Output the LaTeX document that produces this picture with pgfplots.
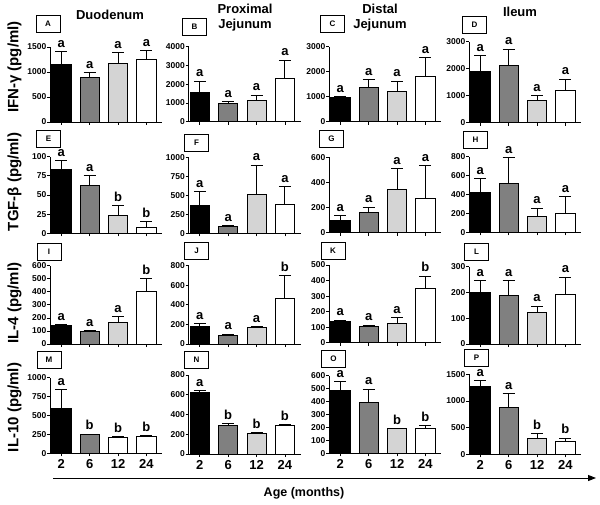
\documentclass[border=0pt]{standalone}
\usepackage{pgfplots}
\pgfplotsset{compat=1.18}
\usepackage{pgfplotstable}
\usepackage{fontspec}
\setmainfont{Liberation Sans}
\usetikzlibrary{arrows.meta}

\definecolor{mgray}{RGB}{128,128,128}
\definecolor{lgray}{RGB}{212,212,212}

% one table per panel: x, mean, upper error, letter
\pgfplotstableread{
x y e lab
1 1153 260 a
2 900 80 a
3 1167 220 a
4 1247 186 a
}\tA
\pgfplotstableread{
x y e lab
1 1582 587 a
2 996 71 a
3 1156 266 a
4 2293 996 a
}\tB
\pgfplotstableread{
x y e lab
1 960 53 a
2 1373 320 a
3 1213 414 a
4 1813 747 a
}\tC
\pgfplotstableread{
x y e lab
1 1914 580 a
2 2123 605 a
3 840 160 a
4 1210 407 a
}\tD
\pgfplotstableread{
x y e lab
1 83.5 11.3 a
2 63 12.6 a
3 24 11.7 b
4 7.8 7.4 b
}\tE
\pgfplotstableread{
x y e lab
1 374 177 a
2 88 13 a
3 520 383 a
4 388 233 a
}\tF
\pgfplotstableread{
x y e lab
1 96 39 a
2 162 40 a
3 342 168 a
4 276 255 a
}\tG
\pgfplotstableread{
x y e lab
1 423 147 a
2 514 275 a
3 169 88 a
4 201 176 a
}\tH
\pgfplotstableread{
x y e lab
1 143 3 a
2 94 8 a
3 163 46 a
4 401 102 b
}\tI
\pgfplotstableread{
x y e lab
1 177 34 a
2 92 7 a
3 173 4 a
4 466 235 b
}\tJ
\pgfplotstableread{
x y e lab
1 137 7 a
2 107 5 a
3 127 34 a
4 350 79 b
}\tK
\pgfplotstableread{
x y e lab
1 202 43 a
2 188 58 a
3 122 25 a
4 194 66 a
}\tL
\pgfplotstableread{
x y e lab
1 590 251 a
2 247 8 b
3 211 9 b
4 220 9 b
}\tM
\pgfplotstableread{
x y e lab
1 625 17 a
2 287 20 b
3 209 7 b
4 287 7 b
}\tN
\pgfplotstableread{
x y e lab
1 490 64 a
2 394 103 a
3 191 0 b
4 191 23 b
}\tO
\pgfplotstableread{
x y e lab
1 1269 106 a
2 875 256 a
3 300 87 b
4 244 56 b
}\tP

\pgfplotsset{
  panel/.style={
    scale only axis, width=112pt,
    xmin=0.6, xmax=4.55, ymin=0,
    axis x line*=bottom, axis y line*=left,
    xtick={1,2,3,4}, xticklabels={},
    tick align=outside, major tick length=3pt,
    tick style={black, line width=0.8pt},
    axis line style={line width=0.8pt},
    tick label style={font=\bfseries\fontsize{8.5}{9}\selectfont},
    yticklabel style={inner sep=0.5pt},
    /pgf/number format/assume math mode=true,
    /pgf/number format/1000 sep={},
    scaled y ticks=false,
    clip=false, anchor=south west,
  },
  bottomticks/.style={xticklabels={2,6,12,24},
    xticklabel style={font=\bfseries\fontsize{13}{13}\selectfont}},
  bar/.style={ybar, bar width=0.68, bar shift=0pt, draw=black, line width=0.8pt,
    error bars/y dir=plus, error bars/y explicit,
    error bars/error bar style={line width=1pt, black},
    error bars/error mark options={rotate=90, mark size=6pt, line width=1pt, black}},
  lab/.style={only marks, mark=text, text mark={},
    point meta=explicit symbolic, nodes near coords, nodes near coords align=vertical,
    every node near coord/.append style={font=\bfseries\fontsize{13}{13}\selectfont,
      inner sep=1.5pt, anchor=south, yshift=2.5pt, black}},
}

\newcommand{\bars}[1]{%
  \addplot[bar, fill=black, restrict x to domain=0.5:1.5] table[x=x, y=y, y error=e]{#1};
  \addplot[bar, fill=mgray, restrict x to domain=1.5:2.5] table[x=x, y=y, y error=e]{#1};
  \addplot[bar, fill=lgray, restrict x to domain=2.5:3.5] table[x=x, y=y, y error=e]{#1};
  \addplot[bar, fill=white, restrict x to domain=3.5:4.5] table[x=x, y=y, y error=e]{#1};
  \addplot[lab] table[x=x, y expr=\thisrow{y}+\thisrow{e}, meta=lab]{#1};
}

\newcommand{\tag}[3]{\node[draw, line width=0.6pt, minimum width=24pt, minimum height=17pt,
  inner sep=0pt, font=\bfseries\fontsize{8}{8}\selectfont] at (#1pt,-#2pt) {#3};}

\begin{document}
\begin{tikzpicture}
\useasboundingbox (0pt,0pt) rectangle (600pt,-505pt);

% row 1: IFN-gamma
\begin{axis}[panel, at={(50pt,-122pt)}, height=75pt, ymax=1500, ytick={0,500,1000,1500}]
\bars{\tA}
\end{axis}
\begin{axis}[panel, at={(188.5pt,-121.7pt)}, height=75pt, ymax=4000, ytick={0,1000,2000,3000,4000}]
\bars{\tB}
\end{axis}
\begin{axis}[panel, at={(329pt,-121.7pt)}, height=75pt, ymax=3000, ytick={0,1000,2000,3000}]
\bars{\tC}
\end{axis}
\begin{axis}[panel, at={(469pt,-122.7pt)}, height=81pt, ymax=3000, ytick={0,1000,2000,3000}]
\bars{\tD}
\end{axis}

% row 2: TGF-beta
\begin{axis}[panel, at={(50pt,-233.3pt)}, height=76.6pt, ymax=100, ytick={0,25,50,75,100}]
\bars{\tE}
\end{axis}
\begin{axis}[panel, at={(188.5pt,-233.3pt)}, height=75.6pt, ymax=1000, ytick={0,250,500,750,1000}]
\bars{\tF}
\end{axis}
\begin{axis}[panel, at={(329pt,-232.7pt)}, height=75.4pt, ymax=600, ytick={0,200,400,600}]
\bars{\tG}
\end{axis}
\begin{axis}[panel, at={(469pt,-232.3pt)}, height=75.6pt, ymax=800, ytick={0,200,400,600,800}]
\bars{\tH}
\end{axis}

% row 3: IL-4
\begin{axis}[panel, at={(50pt,-344pt)}, height=78.3pt, ymax=600, ytick={0,100,...,600}]
\bars{\tI}
\end{axis}
\begin{axis}[panel, at={(188.5pt,-344pt)}, height=78.3pt, ymax=800, ytick={0,200,400,600,800}]
\bars{\tJ}
\end{axis}
\begin{axis}[panel, at={(329pt,-342.7pt)}, height=77.7pt, ymax=500, ytick={0,100,...,500}]
\bars{\tK}
\end{axis}
\begin{axis}[panel, at={(469pt,-344pt)}, height=77.3pt, ymax=300, ytick={0,100,200,300}]
\bars{\tL}
\end{axis}

% row 4: IL-10
\begin{axis}[panel, bottomticks, at={(50pt,-453.3pt)}, height=75.6pt, ymax=1000, ytick={0,250,500,750,1000}]
\addplot[bar, fill=black, restrict x to domain=0.5:1.5] table[x=x, y=y, y error=e]{\tM};
\addplot[bar, fill=mgray, restrict x to domain=1.5:2.5] table[x=x, y=y, y error=e]{\tM};
\addplot[bar, fill=white, restrict x to domain=2.5:4.5] table[x=x, y=y, y error=e]{\tM};
\addplot[lab] table[x=x, y expr=\thisrow{y}+\thisrow{e}, meta=lab]{\tM};
\end{axis}
\begin{axis}[panel, bottomticks, at={(188.5pt,-454pt)}, height=79pt, ymax=800, ytick={0,200,400,600,800}]
\bars{\tN}
\end{axis}
\begin{axis}[panel, bottomticks, at={(329pt,-453.3pt)}, height=77.6pt, ymax=600, ytick={0,100,...,600}]
\bars{\tO}
\end{axis}
\begin{axis}[panel, bottomticks, at={(469pt,-454.3pt)}, height=80pt, ymax=1500, ytick={0,500,1000,1500}]
\bars{\tP}
\end{axis}

% panel tags
\tag{48}{23.5}{A} \tag{194.5}{27}{B} \tag{332.5}{24}{C} \tag{474.5}{25}{D}
\tag{48.5}{138.5}{E} \tag{196.5}{142.5}{F} \tag{331.5}{138.5}{G} \tag{475.5}{139.5}{H}
\tag{49}{251.5}{I} \tag{196.5}{251}{J} \tag{333}{250.5}{K} \tag{476.5}{252}{L}
\tag{49}{360}{M} \tag{196.5}{360}{N} \tag{333.5}{358.5}{O} \tag{476.5}{357.5}{P}

% column titles
\begin{scope}[every node/.style={font=\bfseries\fontsize{13}{15}\selectfont, align=center}]
\node at (110pt,-15pt) {Duodenum};
\node at (245pt,-17.5pt) {Proximal\\Jejunum};
\node at (380pt,-17.5pt) {Distal\\Jejunum};
\node at (520pt,-12pt) {Ileum};
\end{scope}

% row labels
\begin{scope}[every node/.style={font=\bfseries\fontsize{15}{15}\selectfont, rotate=90}]
\node at (14.5pt,-67pt) {IFN-γ (pg/ml)};
\node at (14.5pt,-182pt) {TGF-β (pg/ml)};
\node at (14.5pt,-303pt) {IL-4 (pg/ml)};
\node at (14.5pt,-407.5pt) {IL-10 (pg/ml)};
\end{scope}

% age arrow
\draw[line width=1pt, -{Triangle[length=8pt, width=6pt]}] (53pt,-478pt) -- (596pt,-478pt);
\node[font=\bfseries\fontsize{12.5}{13}\selectfont] at (304pt,-493pt) {Age (months)};
\end{tikzpicture}
\end{document}
